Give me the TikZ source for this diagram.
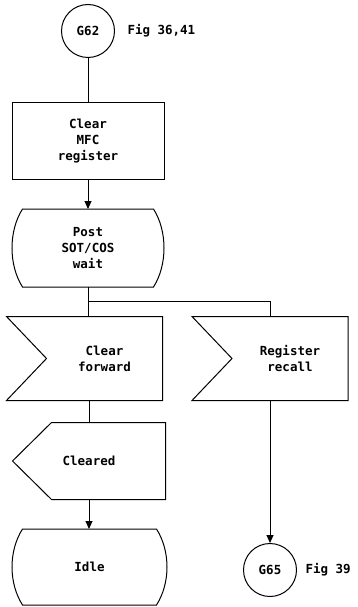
\documentclass[tikz,border=0pt]{standalone}
\usepackage{fontspec}
\setmonofont{DejaVu Sans Mono}
\usetikzlibrary{arrows.meta}

\begin{document}
\begin{tikzpicture}[x=1pt,y=1pt,line width=1pt,>={Triangle[length=8pt,width=7pt]},
    every node/.style={align=center,inner sep=0pt,font=\ttfamily\bfseries\fontsize{12.5}{16}\selectfont},
    conn/.style={circle,draw,minimum size=53pt},
    taskbox/.style={draw,minimum width=152pt,minimum height=76pt},
    statebox/.style={minimum width=130pt,minimum height=77pt},
    inbox/.style={minimum width=115pt,minimum height=83pt},
    outbox/.style={minimum width=152pt,minimum height=76pt}]
  \useasboundingbox (0,0) rectangle (357,-607);

  \node[conn] (g62) at (88,-31) {G62};
  \node[anchor=west] (fig1) at (127,-31) {Fig 36,41};
  \node[taskbox] (clrmfc) at (88,-141) {Clear\\MFC\\register};
  \node[statebox] (post) at (88,-248) {Post\\SOT/COS\\wait};
  \node[inbox] (clrfwd) at (104.5,-358.5) {Clear\\forward};
  \node[inbox] (regrec) at (290,-358.5) {Register\\recall};
  \node[outbox] (cleared) at (89,-461) {Cleared};
  \node[statebox,minimum width=133pt,minimum height=75pt] (idle) at (89.5,-567) {Idle};
  \node[conn] (g65) at (270,-570) {G65};
  \node[anchor=west] (fig2) at (305,-570) {Fig 39};

  % state symbols
  \foreach \n in {post,idle}
    \draw (\n.north west) -- (\n.north east) .. controls +(14,-22) and +(14,22) .. (\n.south east)
      -- (\n.south west) .. controls +(-14,22) and +(-14,-22) .. (\n.north west) -- cycle;
  % input signals
  \foreach \n in {clrfwd,regrec}
    \draw ([xshift=-40pt]\n.north west) -- (\n.north east) -- (\n.south east)
      -- ([xshift=-40pt]\n.south west) -- (\n.west) -- cycle;
  % output signal
  \draw (cleared.west) -- ([xshift=39pt]cleared.north west) -- (cleared.north east)
    -- (cleared.south east) -- ([xshift=39pt]cleared.south west) -- cycle;

  \coordinate (split) at (88,-301);
  \draw (g62) -- (clrmfc);
  \draw[->] (clrmfc) -- (post);
  \draw (post.south) -- (post.south |- clrfwd.north);
  \draw (split) -| (regrec.north -| g65);
  \draw (clrfwd.south -| cleared) -- (cleared);
  \draw[->] (cleared.south) -- (cleared.south |- idle.north);
  \draw[->] (regrec.south -| g65) -- (g65);
\end{tikzpicture}
\end{document}
